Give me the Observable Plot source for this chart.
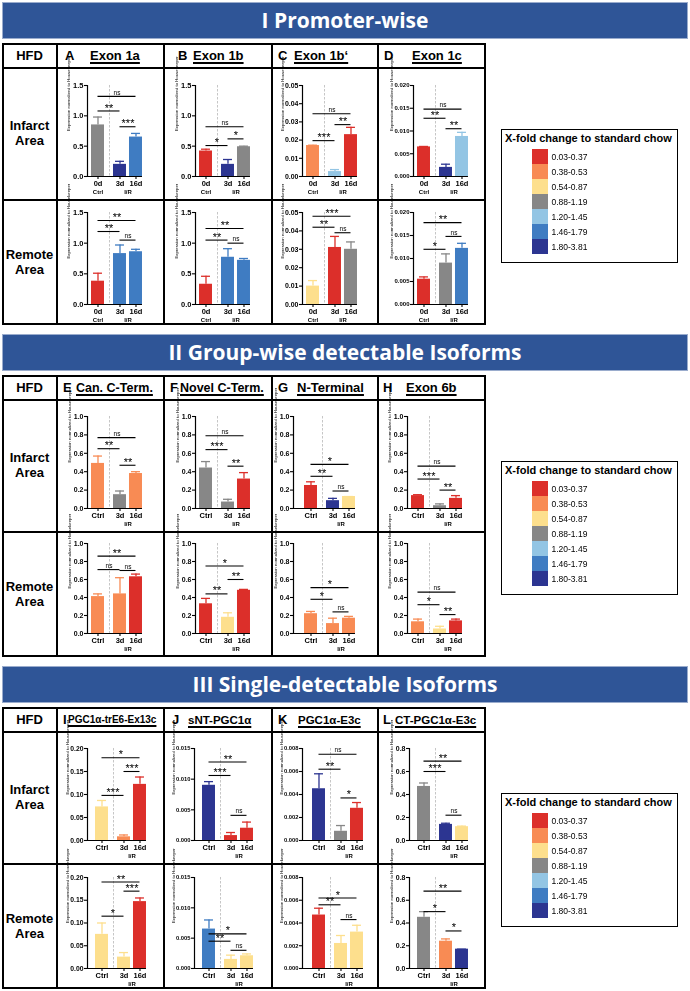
<!DOCTYPE html>
<html>
<head>
<meta charset="utf-8">
<script src="https://cdn.jsdelivr.net/npm/d3@7"></script>
<script src="https://cdn.jsdelivr.net/npm/@observablehq/plot@0.6"></script>
<style>
html,body{margin:0;padding:0;background:#fff;}
#root{position:relative;width:690px;height:991px;overflow:hidden;font-family:"Liberation Sans",Arial,sans-serif;color:#000;background:#fff;}
.banner{position:absolute;left:2px;width:686px;height:37px;line-height:37px;background:#2f5597;color:#fff;font-family:"Open Sans",sans-serif;font-weight:700;font-size:21px;text-align:center;box-shadow:inset 0 0 0 1px #9aaccd;}
.line{position:absolute;background:#000;z-index:5;}
.hdr{position:absolute;height:24px;line-height:24px;font-weight:700;white-space:nowrap;}
.u{text-decoration:underline;text-decoration-thickness:1.5px;text-underline-offset:2px;}
.rowlab{position:absolute;left:2px;width:55px;display:flex;align-items:center;justify-content:center;text-align:center;font-weight:700;font-size:13px;line-height:15px;white-space:pre;}
.legend{position:absolute;border:1px solid #000;background:#fff;box-sizing:border-box;}
.legtitle{position:absolute;left:3px;top:2px;font-weight:700;font-size:11px;white-space:nowrap;}
#root svg{position:absolute;overflow:visible;will-change:transform;transform:translateZ(0);}
#root svg text{fill:#000;}
</style>
</head>
<body>
<div id="root"></div>
<script>
// ---------------- DATA ----------------
const legendRanges = ["0.03-0.37","0.38-0.53","0.54-0.87","0.88-1.19","1.20-1.45","1.46-1.79","1.80-3.81"];
const legendColors = ["#dc2f2a","#f88b54","#fddf8d","#878787","#93c5e4","#3f7cc2","#2c3591"];
const legendTitle = "X-fold change to standard chow";
const sectionTitles = ["I Promoter-wise","II Group-wise detectable Isoforms","III Single-detectable Isoforms"];
const cornerLabel = "HFD";
const rowLabels = ["Infarct\nArea","Remote\nArea"];
const panelLetters = ["A","B","C","D","E","F","G","H","I","J","K","L"];
const panelTitles = ["Exon 1a","Exon 1b","Exon 1b\u2018","Exon 1c","Can. C-Term.","Novel C-Term.","N-Terminal","Exon 6b","PGC1\u03b1-trE6-Ex13c","sNT-PGC1\u03b1","PGC1\u03b1-E3c","CT-PGC1\u03b1-E3c"];
const timeLabelsI = ["0d","3d","16d"];
const timeLabels = ["Ctrl","3d","16d"];
const groupLabelsI = ["Ctrl","I/R"];
const groupLabels = ["I/R"];
const yLabelText = "Expression normalized to Housekeeper";
const yMax = [1.5,1.5,0.05,0.02, 1,1,1,1, 0.2,0.015,0.008,0.8];
const yStep = [0.5,0.5,0.01,0.005, 0.2,0.2,0.2,0.2, 0.05,0.005,0.002,0.2];
const yDecimals = [1,1,2,3, 1,1,1,1, 2,3,3,1];

const infarctMeans = [
  [0.85,0.20,0.65],[0.42,0.20,0.49],[0.017,0.0027,0.023],[0.0065,0.002,0.0088],
  [0.49,0.15,0.38],[0.44,0.07,0.32],[0.25,0.085,0.13],[0.14,0.03,0.11],
  [0.073,0.008,0.122],[0.009,0.0008,0.002],[0.0045,0.0008,0.0028],[0.47,0.14,0.12]
];
const infarctErrors = [
  [0.98,0.25,0.71],[0.45,0.28,0.5],[0.0172,0.0038,0.027],[0.0066,0.0027,0.0097],
  [0.57,0.19,0.40],[0.51,0.10,0.39],[0.29,0.11,0.13],[0.15,0.05,0.14],
  [0.087,0.012,0.138],[0.0096,0.0013,0.003],[0.0058,0.0013,0.0033],[0.50,0.15,0.125]
];
const infarctColorClass = [
  [3,6,5],[0,6,3],[1,4,0],[0,6,4],
  [1,3,1],[3,3,0],[0,6,2],[0,3,0],
  [2,1,0],[6,0,0],[6,3,0],[3,6,2]
];
const infarctSig = [
  [[0,2,1.32,"ns"],[0,1,1.08,"**"],[1,2,0.82,"***"]],
  [[0,2,0.82,"ns"],[0,1,0.51,"*"],[1,2,0.62,"*"]],
  [[0,2,0.0345,"ns"],[0,1,0.0197,"***"],[1,2,0.0285,"**"]],
  [[0,2,0.0148,"ns"],[0,1,0.0128,"**"],[1,2,0.0105,"**"]],
  [[0,2,0.77,"ns"],[0,1,0.65,"**"],[1,2,0.47,"**"]],
  [[0,2,0.79,"ns"],[0,1,0.64,"***"],[1,2,0.46,"**"]],
  [[0,2,0.48,"*"],[0,1,0.35,"**"],[1,2,0.19,"ns"]],
  [[0,2,0.46,"ns"],[0,1,0.32,"***"],[1,2,0.2,"**"]],
  [[0,2,0.18,"*"],[0,1,0.098,"***"],[1,2,0.15,"***"]],
  [[0,2,0.0128,"**"],[0,1,0.0106,"***"],[1,2,0.0041,"ns"]],
  [[0,2,0.0075,"ns"],[0,1,0.0062,"**"],[1,2,0.0037,"*"]],
  [[0,2,0.69,"**"],[0,1,0.6,"***"],[1,2,0.22,"ns"]]
];

const remoteMeans = [
  [0.38,0.83,0.86],[0.33,0.77,0.72],[0.010,0.031,0.030],[0.0055,0.009,0.0122],
  [0.41,0.44,0.63],[0.33,0.18,0.48],[0.22,0.11,0.17],[0.13,0.05,0.14],
  [0.075,0.025,0.147],[0.0065,0.0015,0.0021],[0.0047,0.0022,0.0032],[0.45,0.24,0.17]
];
const remoteErrors = [
  [0.51,0.97,0.90],[0.46,0.91,0.75],[0.013,0.037,0.034],[0.006,0.011,0.0133],
  [0.44,0.62,0.66],[0.39,0.23,0.49],[0.245,0.17,0.19],[0.16,0.08,0.16],
  [0.10,0.035,0.155],[0.008,0.0022,0.0024],[0.0053,0.0029,0.0038],[0.50,0.26,0.17]
];
const remoteColorClass = [
  [0,5,5],[0,5,5],[2,0,3],[0,3,5],
  [1,1,0],[0,2,0],[1,1,1],[1,2,0],
  [2,2,0],[5,2,2],[0,2,2],[3,1,6]
];
const remoteSig = [
  [[0,2,1.37,"**"],[0,1,1.19,"**"],[1,2,1.05,"ns"]],
  [[0,2,1.24,"**"],[0,1,1.05,"**"],[1,2,1.0,"ns"]],
  [[0,2,0.048,"***"],[0,1,0.042,"**"],[1,2,0.039,"ns"]],
  [[0,2,0.0178,"**"],[0,1,0.012,"*"],[1,2,0.0148,"ns"]],
  [[0,2,0.86,"**"],[0,1,0.71,"ns"],[1,2,0.70,"ns"]],
  [[0,2,0.75,"*"],[0,1,0.44,"**"],[1,2,0.60,"**"]],
  [[0,2,0.51,"*"],[0,1,0.38,"*"],[1,2,0.24,"ns"]],
  [[0,2,0.46,"ns"],[0,1,0.32,"*"],[1,2,0.21,"**"]],
  [[0,2,0.19,"**"],[0,1,0.115,"*"],[1,2,0.17,"***"]],
  [[0,2,0.0057,"*"],[0,1,0.0045,"**"],[1,2,0.003,"ns"]],
  [[0,2,0.0062,"*"],[0,1,0.0056,"**"],[1,2,0.0043,"ns"]],
  [[0,2,0.68,"**"],[0,1,0.5,"*"],[1,2,0.33,"*"]]
];

// ---------------- LAYOUT ----------------
const bannerTops = [2, 334, 666];
const tableTops = [43, 375, 707];
const tableLeft = 2, tableRight = 486, tableH = 282, headerH = 24, infarctH = 132;
const colLines = [57, 164, 272, 378];
const plotRows = [
  {inf:[85,176], rem:[212,304]},
  {inf:[416,508], rem:[543,633]},
  {inf:[748,840], rem:[877,968]}
];
const axisXs = [87,195,302,413, 87,195,293,407, 87,194,302,409];
const extraLeft = [0,0,0,0, 0,0,7,0, 4,4,6,4];
const tickFont = [7.5,7.5,7,6, 7,7,7,7, 6.8,5.8,5.8,7];
const yLabDx = [-19,-19,-20,-22, -18,-18,-18,-18, -20,-21,-21,-18];
const letterX = [65,178,278,384, 63,170,278,383, 63,172,278,383];
const titleX = [90,193,294,412, 76,180,297,406, 68,188,298,395];
const titleFont = [13,13,13,13, 12.5,12.5,13,13, 10,11.5,11.5,11.5];
const legendLeft = 501, legendOffset = 86, legendW = 177, legendH = 134;

const X_UNIT = 16;
const slots = [0, 1.375, 2.375];
const barHalf = 0.406, capHalf = 0.28, dividerSlot = 0.72;
const leftPad = 0.656, rightEdge = 2.781;

const root = document.getElementById("root");
function el(tag, cls, css, text) {
  const e = document.createElement(tag);
  if (cls) e.className = cls;
  if (css) Object.assign(e.style, css);
  if (text != null) e.textContent = text;
  root.appendChild(e);
  return e;
}

function panelChart(p, rowIdx) {
  const s = Math.floor(p / 4);
  const means = (rowIdx ? remoteMeans : infarctMeans)[p];
  const errs = (rowIdx ? remoteErrors : infarctErrors)[p];
  const cls = (rowIdx ? remoteColorClass : infarctColorClass)[p];
  const sig = (rowIdx ? remoteSig : infarctSig)[p];
  const [top, bottom] = rowIdx ? plotRows[s].rem : plotRows[s].inf;
  const xMin = -leftPad - extraLeft[p] / X_UNIT;
  const innerW = (rightEdge - xMin) * X_UNIT;
  const innerH = bottom - top;
  const mL = 26, mR = 12, mT = 14, mB = 26;
  const ym = yMax[p], st = yStep[p];
  const ticks = d3.range(0, Math.round(ym / st) + 1).map(k => +(k * st).toFixed(6));
  const fmt = d3.format("." + yDecimals[p] + "f");
  const bars = means.map((m, i) => ({x: slots[i], m, e: errs[i], c: legendColors[cls[i]]}));
  const sigs = sig.map(([a, b, y, t]) => ({x1: slots[a], x2: slots[b], y, t}));
  const tl = s === 0 ? timeLabelsI : timeLabels;
  const gl = s === 0
    ? [{x: slots[0], t: groupLabelsI[0]}, {x: (slots[1] + slots[2]) / 2, t: groupLabelsI[1]}]
    : [{x: (slots[1] + slots[2]) / 2, t: groupLabels[0]}];
  const svg = Plot.plot({
    width: innerW + mL + mR, height: innerH + mT + mB,
    marginLeft: mL, marginRight: mR, marginTop: mT, marginBottom: mB,
    x: {domain: [xMin, rightEdge], axis: null},
    y: {domain: [0, ym], axis: null},
    color: {type: "identity"},
    style: {background: "transparent", overflow: "visible", color: "#000", fontFamily: "'Liberation Sans', Arial, sans-serif", fontWeight: "bold"},
    marks: [
      Plot.ruleX([dividerSlot], {stroke: "#b8b8b8", strokeWidth: 0.8, strokeDasharray: "2.5,1.5"}),
      Plot.rect(bars, {x1: d => d.x - barHalf, x2: d => d.x + barHalf, y1: d => 0, y2: "m", fill: "c"}),
      Plot.ruleX(bars, {x: "x", y1: "m", y2: "e", stroke: "c", strokeWidth: 1.3}),
      Plot.ruleY(bars, {y: "e", x1: d => d.x - capHalf, x2: d => d.x + capHalf, stroke: "c", strokeWidth: 1.3}),
      Plot.ruleY(sigs, {y: "y", x1: "x1", x2: "x2", stroke: "#000", strokeWidth: 1.1}),
      Plot.text(sigs.filter(d => d.t !== "ns"), {x: d => (d.x1 + d.x2) / 2, y: "y", text: "t", fill: "#000", fontSize: 11, fontWeight: "normal", dy: -3}),
      Plot.text(sigs.filter(d => d.t === "ns"), {x: d => (d.x1 + d.x2) / 2, y: "y", text: "t", fill: "#000", fontSize: 6.5, fontWeight: "normal", dy: -4}),
      Plot.ruleY([0], {stroke: "#000", strokeWidth: 1.2}),
      Plot.ruleX([xMin], {stroke: "#000", strokeWidth: 1.2}),
      Plot.axisY({ticks, tickFormat: fmt, tickSize: 3, tickPadding: 1, fontSize: tickFont[p], strokeWidth: 1.1, fill: "#000"}),
      Plot.axisX({ticks: slots, tickFormat: d => tl[slots.indexOf(d)], tickSize: 3, tickPadding: 1.5, fontSize: 7.5, strokeWidth: 1.1, fill: "#000"}),
      Plot.text(gl, {x: "x", frameAnchor: "bottom", text: "t", dy: 17.5, fontSize: 6, fill: "#000"}),
      Plot.text([yLabelText], {frameAnchor: "left", text: d => d, rotate: -90, dx: yLabDx[p], fontSize: 4.3, fontWeight: "normal", fill: "#000"})
    ]
  });
  svg.style.left = (axisXs[p] - mL) + "px";
  svg.style.top = (top - mT) + "px";
  root.appendChild(svg);
}

function legendPlot(top) {
  const box = el("div", "legend", {left: legendLeft + "px", top: top + "px", width: legendW + "px", height: legendH + "px"});
  const t = document.createElement("div");
  t.className = "legtitle"; t.textContent = legendTitle; box.appendChild(t);
  const rows = legendRanges.map((r, i) => ({r, c: legendColors[i]}));
  const svg = Plot.plot({
    width: 120, height: 105, margin: 0,
    x: {type: "band", domain: ["swatch"], range: [0, 16], padding: 0, axis: null},
    y: {type: "band", domain: legendRanges, padding: 0, axis: null},
    color: {type: "identity"},
    style: {background: "transparent", overflow: "visible", fontFamily: "'Liberation Sans', Arial, sans-serif"},
    marks: [
      Plot.cell(rows, {x: () => "swatch", y: "r", fill: "c"}),
      Plot.text(rows, {x: () => "swatch", y: "r", text: "r", textAnchor: "start", dx: 11, fontSize: 8.5, fill: "#555"})
    ]
  });
  svg.style.position = "absolute";
  svg.style.left = "30px";
  svg.style.top = "19px";
  box.appendChild(svg);
}

for (let s = 0; s < 3; s++) {
  el("div", "banner", {top: bannerTops[s] + "px"}, sectionTitles[s]);
  const T = tableTops[s];
  el("div", "hdr", {left: tableLeft + "px", width: (colLines[0] - tableLeft) + "px", top: (T + 1) + "px", textAlign: "center", fontSize: "13px"}, cornerLabel);
  for (let k = 0; k < 4; k++) {
    const p = s * 4 + k;
    el("div", "hdr", {left: letterX[p] + "px", top: (T + 1) + "px", fontSize: "13px"}, panelLetters[p]);
    el("div", "hdr u", {left: titleX[p] + "px", top: (T + 1) + "px", fontSize: titleFont[p] + "px"}, panelTitles[p]);
  }
  el("div", "rowlab", {top: (T + headerH) + "px", height: infarctH + "px"}, rowLabels[0]);
  el("div", "rowlab", {top: (T + headerH + infarctH) + "px", height: (tableH - headerH - infarctH) + "px"}, rowLabels[1]);
  for (let k = 0; k < 4; k++) {
    panelChart(s * 4 + k, 0);
    panelChart(s * 4 + k, 1);
  }
  const bw = 2;
  el("div", "line", {left: tableLeft + "px", top: T + "px", width: (tableRight - tableLeft) + "px", height: bw + "px"});
  el("div", "line", {left: tableLeft + "px", top: (T + tableH - bw) + "px", width: (tableRight - tableLeft) + "px", height: bw + "px"});
  el("div", "line", {left: tableLeft + "px", top: (T + headerH) + "px", width: (tableRight - tableLeft) + "px", height: bw + "px"});
  el("div", "line", {left: tableLeft + "px", top: (T + headerH + infarctH) + "px", width: (tableRight - tableLeft) + "px", height: bw + "px"});
  el("div", "line", {left: tableLeft + "px", top: T + "px", width: bw + "px", height: tableH + "px"});
  el("div", "line", {left: (tableRight - bw) + "px", top: T + "px", width: bw + "px", height: tableH + "px"});
  colLines.forEach(x => el("div", "line", {left: (x - 1) + "px", top: T + "px", width: bw + "px", height: tableH + "px"}));
  legendPlot(T + legendOffset);
}
</script>
</body>
</html>
